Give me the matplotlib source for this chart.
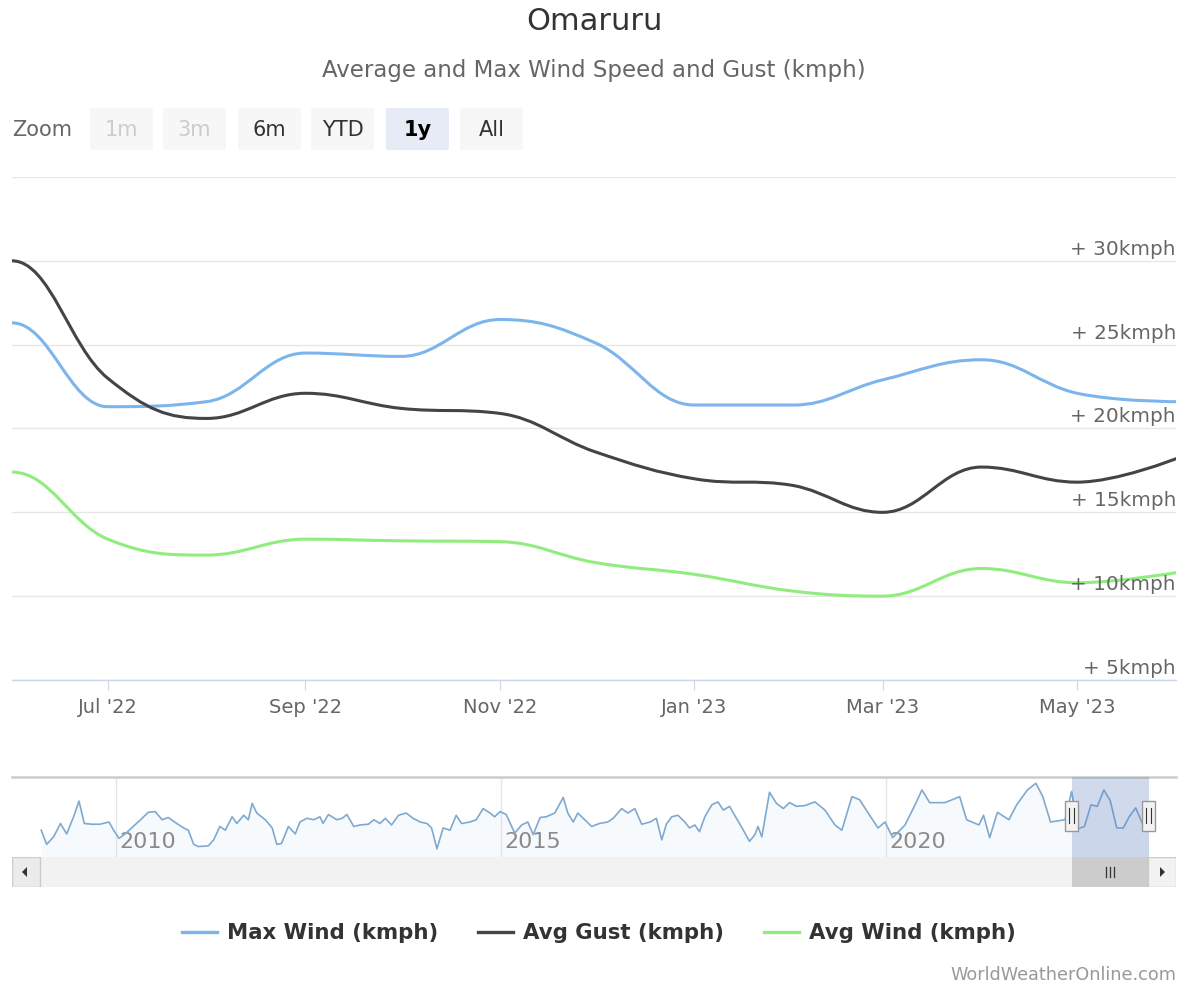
import matplotlib
matplotlib.use('Agg')
import matplotlib.pyplot as plt
import matplotlib.dates as mdates
from matplotlib.path import Path
from matplotlib.patches import PathPatch, Rectangle, FancyBboxPatch, Polygon
from matplotlib.lines import Line2D
from matplotlib.transforms import Affine2D, blended_transform_factory, offset_copy
from datetime import date

# ---------------- data ----------------
# first point (May 2022) lies just before the visible 1-year window
months = ['2022-05-01', '2022-06-01', '2022-07-01', '2022-08-01', '2022-09-01', '2022-10-01',
          '2022-11-01', '2022-12-01', '2023-01-01', '2023-02-01', '2023-03-01',
          '2023-04-01', '2023-05-01', '2023-06-01']
max_wind = [22.5, 26.3, 21.3, 21.6, 24.5, 24.3, 26.5, 25.1, 21.4, 21.4, 22.9, 24.1, 22.1, 21.6]
avg_gust = [25.0, 30.0, 23.0, 20.6, 22.1, 21.2, 20.9, 18.6, 17.0, 16.6, 15.0, 17.7, 16.8, 18.2]
avg_wind = [14.0, 17.4, 13.4, 12.45, 13.4, 13.3, 13.25, 12.0, 11.3, 10.3, 10.0, 11.65, 10.8, 11.4]
view_start = '2022-06-01'
view_end = '2023-06-01'

series_names = ['Max Wind (kmph)', 'Avg Gust (kmph)', 'Avg Wind (kmph)']
series_colors = ['#7cb5ec', '#434348', '#90ed7d']

y_ticks = [5, 10, 15, 20, 25, 30, 35]
y_labels = ['+ 5kmph', '+ 10kmph', '+ 15kmph', '+ 20kmph', '+ 25kmph', '+ 30kmph', '']
x_tick_dates = ['2022-07-01', '2022-09-01', '2022-11-01', '2023-01-01', '2023-03-01', '2023-05-01']
x_tick_labels = ["Jul '22", "Sep '22", "Nov '22", "Jan '23", "Mar '23", "May '23"]

# navigator history of Max Wind (decimal year, kmph) before May 2022
nav_hist_years = [2009.03, 2009.10, 2009.19, 2009.28, 2009.36, 2009.45, 2009.52, 2009.59, 2009.69, 2009.79,
                  2009.91, 2009.97, 2010.04, 2010.12, 2010.34, 2010.42, 2010.51, 2010.60, 2010.68, 2010.79,
                  2010.88, 2010.94, 2011.01, 2011.07, 2011.20, 2011.27, 2011.35, 2011.42, 2011.51, 2011.57,
                  2011.66, 2011.72, 2011.77, 2011.83, 2011.94, 2012.03, 2012.09, 2012.15, 2012.24, 2012.33,
                  2012.39, 2012.48, 2012.57, 2012.65, 2012.69, 2012.76, 2012.87, 2012.94, 2013.00, 2013.09,
                  2013.17, 2013.28, 2013.35, 2013.43, 2013.50, 2013.58, 2013.67, 2013.77, 2013.86, 2013.95,
                  2014.04, 2014.10, 2014.17, 2014.25, 2014.34, 2014.42, 2014.49, 2014.60, 2014.68, 2014.77,
                  2014.86, 2014.92, 2014.99, 2015.07, 2015.18, 2015.27, 2015.35, 2015.42, 2015.51, 2015.59,
                  2015.70, 2015.81, 2015.87, 2015.94, 2016.00, 2016.09, 2016.18, 2016.28, 2016.39, 2016.46,
                  2016.57, 2016.65, 2016.74, 2016.83, 2016.94, 2017.02, 2017.09, 2017.15, 2017.22, 2017.30,
                  2017.39, 2017.45, 2017.52, 2017.58, 2017.65, 2017.74, 2017.82, 2017.89, 2017.97, 2018.06,
                  2018.15, 2018.23, 2018.30, 2018.34, 2018.39, 2018.49, 2018.58, 2018.67, 2018.75, 2018.84,
                  2018.95, 2019.08, 2019.21, 2019.34, 2019.43, 2019.56, 2019.66, 2019.79, 2019.90, 2019.99,
                  2020.09, 2020.25, 2020.38, 2020.47, 2020.57, 2020.77, 2020.96, 2021.05, 2021.21, 2021.27,
                  2021.35, 2021.45, 2021.60, 2021.70, 2021.84, 2021.95, 2022.04, 2022.14]
nav_hist_values = [21.1, 19.2, 20.2, 22.0, 20.6, 22.9, 25.0, 22.0, 21.9, 21.9,
                   22.2, 21.1, 20.0, 20.6, 22.7, 23.5, 23.6, 22.5, 22.8, 22.0,
                   21.4, 21.1, 19.2, 18.9, 19.0, 19.8, 21.6, 21.1, 22.9, 22.0,
                   23.1, 22.5, 24.7, 23.4, 22.5, 21.4, 19.2, 19.3, 21.6, 20.6,
                   22.2, 22.7, 22.5, 22.9, 22.0, 23.2, 22.5, 22.7, 23.2, 21.6,
                   21.8, 21.9, 22.5, 22.0, 22.7, 21.8, 23.1, 23.4, 22.7, 22.2,
                   22.0, 21.4, 18.6, 21.4, 21.1, 23.1, 22.0, 22.2, 22.5, 24.0,
                   23.4, 22.9, 23.6, 23.2, 20.7, 21.8, 22.2, 20.5, 22.8, 22.9,
                   23.4, 25.5, 23.4, 22.2, 23.4, 22.5, 21.6, 22.0, 22.2, 22.7,
                   24.0, 23.4, 24.0, 21.9, 22.2, 22.7, 19.8, 21.9, 22.9, 23.1,
                   22.2, 21.4, 21.8, 20.9, 22.9, 24.5, 24.9, 23.8, 24.3, 22.7,
                   21.1, 19.6, 20.5, 21.6, 20.2, 26.2, 24.7, 24.0, 24.8, 24.3,
                   24.4, 24.9, 23.8, 21.8, 21.1, 25.6, 25.2, 23.1, 21.4, 22.2,
                   20.1, 21.8, 24.5, 26.5, 24.8, 24.8, 25.6, 22.5, 21.8, 23.1,
                   20.1, 23.5, 22.5, 24.5, 26.5, 27.4, 25.6, 22.2]
nav_year_ticks = [2010, 2015, 2020]
nav_year_labels = ['2010', '2015', '2020']

zoom_buttons = ['1m', '3m', '6m', 'YTD', '1y', 'All']

# ---------------- helpers ----------------
W, H = 1185, 988


def hc_spline(xs, ys, smoothing=1.5):
    """Highcharts-style spline path through the points."""
    n = len(xs)
    den = smoothing + 1
    lc = [None] * n
    rc = [None] * n
    for i in range(1, n - 1):
        px, py = xs[i], ys[i]
        lx, ly = xs[i - 1], ys[i - 1]
        nx, ny = xs[i + 1], ys[i + 1]
        lcx = (smoothing * px + lx) / den
        lcy = (smoothing * py + ly) / den
        rcx = (smoothing * px + nx) / den
        rcy = (smoothing * py + ny) / den
        corr = 0.0
        if rcx != lcx:
            corr = (rcy - lcy) * (rcx - px) / (rcx - lcx) + py - rcy
        lcy += corr
        rcy += corr
        if lcy > ly and lcy > py:
            lcy = max(ly, py); rcy = 2 * py - lcy
        elif lcy < ly and lcy < py:
            lcy = min(ly, py); rcy = 2 * py - lcy
        if rcy > ny and rcy > py:
            rcy = max(ny, py); lcy = 2 * py - rcy
        elif rcy < ny and rcy < py:
            rcy = min(ny, py); lcy = 2 * py - rcy
        lc[i] = (lcx, lcy)
        rc[i] = (rcx, rcy)
    verts = [(xs[0], ys[0])]
    codes = [Path.MOVETO]
    for i in range(1, n):
        c1 = rc[i - 1] if rc[i - 1] is not None else (xs[i - 1], ys[i - 1])
        c2 = lc[i] if lc[i] is not None else (xs[i], ys[i])
        verts += [c1, c2, (xs[i], ys[i])]
        codes += [Path.CURVE4] * 3
    return Path(verts, codes)


def to_date(s):
    y, m, d = map(int, s.split('-'))
    return date(y, m, d)


def dec_year(d):
    start = date(d.year, 1, 1)
    days = (date(d.year + 1, 1, 1) - start).days
    return d.year + (d - start).days / days


def fx(x):
    return x / W


def fy(y):
    return 1 - y / H


plt.rcParams['font.family'] = ['DejaVu Sans']
fig = plt.figure(figsize=(W / 100, H / 100), dpi=100)
fig.patch.set_facecolor('white')
PX = Affine2D().scale(1 / W, 1 / H) + fig.transFigure  # pixel coords, y measured from bottom

# ---------------- titles ----------------
fig.text(fx(594), fy(21), 'Omaruru', ha='center', va='center', fontsize=22, color='#333333')
fig.text(fx(594), fy(70), 'Average and Max Wind Speed and Gust (kmph)', ha='center', va='center',
         fontsize=16.5, color='#666666')

# ---------------- range selector buttons ----------------
fig.text(fx(12), fy(130), 'Zoom', ha='left', va='center', fontsize=15, color='#666666')
btn_x = [90, 163, 238, 311, 386, 460]
btn_w = 63
for i, lab in enumerate(zoom_buttons):
    disabled = lab in ('1m', '3m')
    selected = lab == '1y'
    face = '#e6ebf5' if selected else '#f7f7f7'
    box = FancyBboxPatch((btn_x[i], H - 150), btn_w, 42, boxstyle='round,pad=0,rounding_size=2',
                         transform=PX, facecolor=face, edgecolor='none')
    fig.add_artist(box)
    col = '#cccccc' if disabled else ('#000000' if selected else '#333333')
    fig.text(fx(btn_x[i] + btn_w / 2), fy(130), lab, ha='center', va='center', fontsize=15,
             color=col, fontweight='bold' if selected else 'normal')

# ---------------- main chart ----------------
ax = fig.add_axes([fx(12), fy(680), (1176 - 12) / W, (680 - 177) / H])
xd = [mdates.date2num(to_date(m)) for m in months]
ax.set_xlim(mdates.date2num(to_date(view_start)), mdates.date2num(to_date(view_end)))
ax.set_ylim(5, 35)
ax.set_yticks(y_ticks)
ax.tick_params(axis='y', length=0, labelleft=False)
ax.yaxis.grid(True, color='#e6e6e6', lw=1)
ax.set_axisbelow(True)
for s in ['left', 'right', 'top']:
    ax.spines[s].set_visible(False)
ax.spines['bottom'].set_color('#ccd6eb')
ax.spines['bottom'].set_linewidth(1)
ax.spines['bottom'].set_zorder(3)

ax.set_xticks([mdates.date2num(to_date(d)) for d in x_tick_dates])
ax.set_xticklabels(x_tick_labels)
ax.tick_params(axis='x', direction='out', length=7.2, width=0.8, color='#ccd6eb',
               labelsize=14, labelcolor='#666666', pad=5.5)

handles = []
for vals, col, name, z in zip([max_wind, avg_gust, avg_wind], series_colors, series_names, [4, 5, 6]):
    path = hc_spline(xd, vals)
    ax.add_patch(PathPatch(path, fill=False, edgecolor=col, lw=2.2, capstyle='round',
                           joinstyle='round', zorder=z))
    handles.append(Line2D([], [], color=col, lw=2.4))

ylab_tr = offset_copy(blended_transform_factory(ax.transAxes, ax.transData), fig=fig, y=6, units='dots')
for v, lab in zip(y_ticks, y_labels):
    if lab:
        ax.text(1.0, v, lab, transform=ylab_tr, ha='right', va='baseline', fontsize=14.4,
                color='#666666', zorder=8)

# ---------------- navigator ----------------
nav = fig.add_axes([fx(12), fy(857), (1176 - 12) / W, 80 / H])
nav_x = nav_hist_years + [dec_year(to_date(m)) for m in months]
nav_y = nav_hist_values + max_wind
nav.set_xlim(2008.65, 2023.77)
nav.set_ylim(17.5, 28.24)
nav.set_xticks(nav_year_ticks)
nav.set_yticks([])
nav.tick_params(axis='x', length=0, labelbottom=False)
nav.xaxis.grid(True, color='#e6e6e6', lw=1)
nav.set_axisbelow(True)
for s in ['left', 'right', 'bottom']:
    nav.spines[s].set_visible(False)
nav.spines['top'].set_color('#cccccc')
nav.spines['top'].set_linewidth(1.8)
nav.fill_between(nav_x, nav_y, 17.5, color='#7cb5ec', alpha=0.06, lw=0)
nav.plot(nav_x, nav_y, color='#7fa9cf', lw=1.2, zorder=3)
navtr = blended_transform_factory(nav.transData, nav.transAxes)
for yr, lab in zip(nav_year_ticks, nav_year_labels):
    nav.text(yr + 0.05, 0.19, lab, transform=navtr, ha='left', va='center', fontsize=16,
             color='#8a8a8a', zorder=2)
sel0 = dec_year(to_date(view_start))
sel1 = dec_year(to_date(view_end))
nav.axvspan(sel0, sel1, color=(102 / 255, 133 / 255, 194 / 255, 0.3), lw=0, zorder=4)
hw = 13 / 77.0
for hx in (sel0, sel1):
    nav.add_patch(Rectangle((hx - hw / 2, 0.325), hw, 0.375, transform=navtr, facecolor='#f2f2f2',
                            edgecolor='#999999', lw=1, zorder=6))
    for dx in (-2.2 / 77.0, 2.2 / 77.0):
        nav.add_line(Line2D([hx + dx, hx + dx], [0.42, 0.61], transform=navtr, color='#333333',
                            lw=0.8, zorder=7))

# ---------------- scrollbar ----------------
sb = fig.add_axes([fx(12), fy(887), (1176 - 12) / W, 30 / H])
sb.set_xlim(2008.65, 2023.77)
sb.set_ylim(0, 1)
sb.set_xticks([])
sb.set_yticks([])
for s in sb.spines.values():
    s.set_visible(False)
sb.set_facecolor('#f2f2f2')
sb.axvspan(sel0, sel1, color='#cccccc', lw=0)
sbtr = blended_transform_factory(sb.transData, sb.transAxes)
mid = (sel0 + sel1) / 2
for dx in (-4 / 77.0, 0, 4 / 77.0):
    sb.add_line(Line2D([mid + dx, mid + dx], [0.33, 0.67], transform=sbtr, color='#333333', lw=0.9))
bw = 28 / 1164
sb.add_patch(Rectangle((0, 0), bw, 1, transform=sb.transAxes, facecolor='#ebebeb',
                       edgecolor='#cccccc', lw=1))
sb.add_patch(Rectangle((1 - bw, 0), bw, 1, transform=sb.transAxes, facecolor='#f2f2f2',
                       edgecolor='#cccccc', lw=1))
fig.add_artist(Polygon([(22, H - 872), (27, H - 867), (27, H - 877)], closed=True,
                       transform=PX, facecolor='#333333', edgecolor='none'))
fig.add_artist(Polygon([(1165, H - 872), (1160, H - 867), (1160, H - 877)], closed=True,
                       transform=PX, facecolor='#333333', edgecolor='none'))

# ---------------- legend ----------------
leg = fig.legend(handles, series_names, loc='center', bbox_to_anchor=(fx(599), fy(933)), ncol=3,
                 frameon=False, prop={'weight': 'bold', 'size': 15.3}, handlelength=1.65,
                 handletextpad=0.45, columnspacing=1.9)
for t in leg.get_texts():
    t.set_color('#333333')

# ---------------- credits ----------------
fig.text(fx(1176), fy(975), 'WorldWeatherOnline.com', ha='right', va='center', fontsize=12.7,
         color='#999999')

fig.savefig('out.png', dpi=100, facecolor='white')
